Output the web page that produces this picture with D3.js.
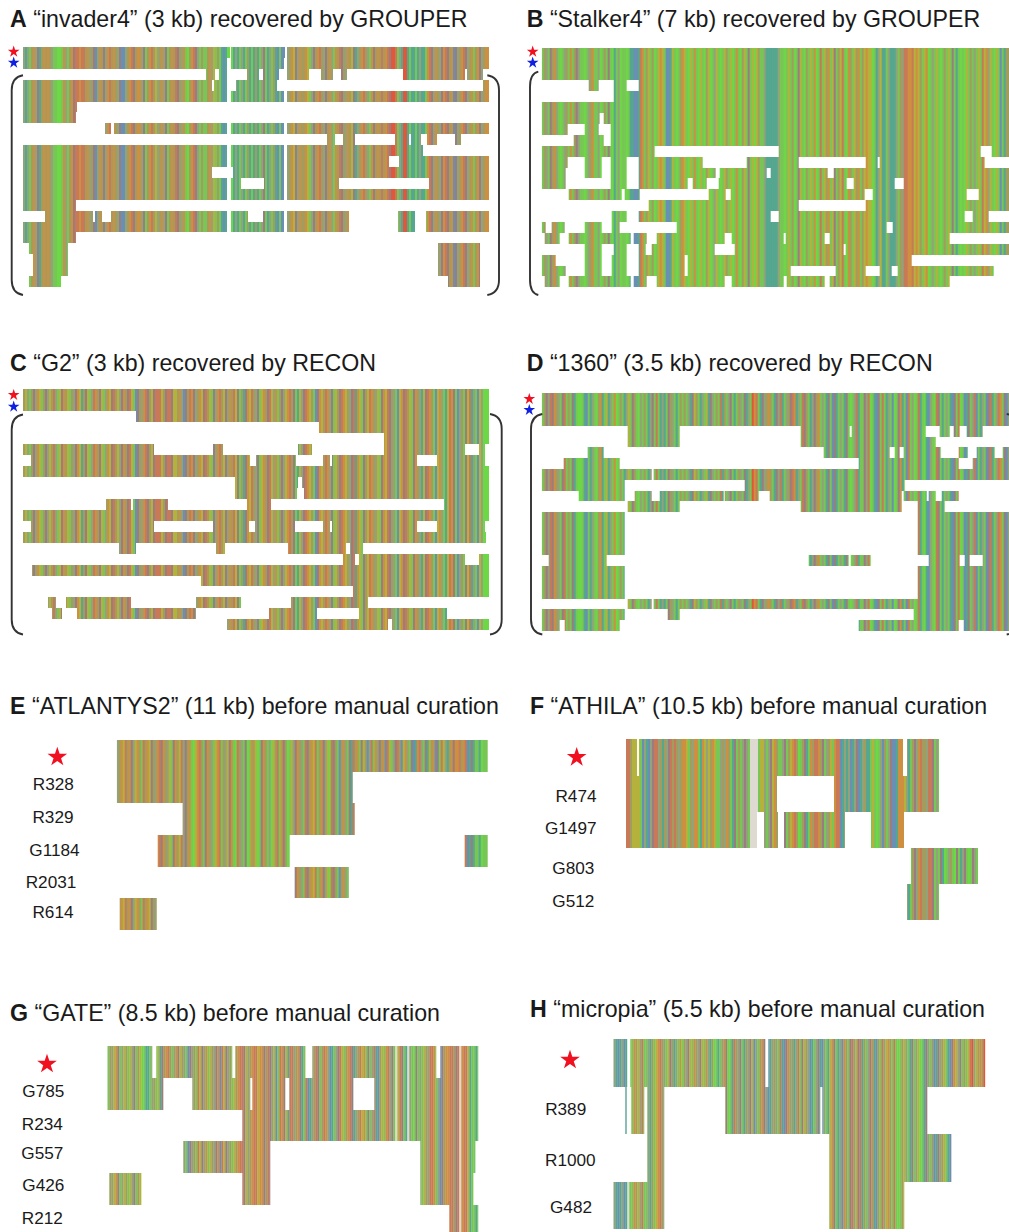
<!DOCTYPE html>
<html>
<head>
<meta charset="utf-8">
<script src="https://cdn.jsdelivr.net/npm/d3@7"></script>
<style>
body { margin: 0; background: #fff; }
text { font-family: "Liberation Sans", Arial, sans-serif; fill: #1a1a1a; }
</style>
</head>
<body>
<div id="chart"></div>
<script>
// base colour keys seen in the alignment views
const baseKeys = ["a", "o", "g", "l", "t", "b", "r", "R", "y", "m", "k", "p"];
const baseColors = ["#a39c5e", "#cf8f3f", "#78c655", "#6cd845", "#55a78f", "#6a8fb5", "#c87a58", "#e0583a", "#b4b23e", "#9a7d80", "#92a27a", "#dedad2"];

// consensus stripes per panel, one letter per column, read by eye
const seqA = "ktkgaokmta oaoakggllg okgaomrror raokambkoa mkoraoakmb bkaormaook mgaoraykao kmgaoarmak oglaormkga ggaokygagt btllltktgk tgatgtatgk mgtkgatbgb bbkaoymkoa aoygkmaora kmaokgoarm akoaymtkao rakgomaoar aormRRrgkt RRtgttgtkt tgormkoakm ormaobmkao rmkaogaomk aoooaaoooa";
const seqB = "gakgmaokgl gkagogamkg glgkaoggkl gagmgltgkl gglgttbbtr ogaygalgyo ygbbtyglga oyglygogly glaylgkygl gyagylgogl aygmgylyag gkttttttkg glgygalgmy glagygolgr gyaogymgay rgloagyaog ayoyylgtky ttgktttkga krrooryoya gyolgkgygl gagygmgtgl glygagkgyg ryokyglygb gtaaytgbgr";
const seqC = "aykgamkoyg amkyarkgym oaygakmoyt amygkroamy gkoymraykm oamrygbmak ormaymrrry amrrmyyaok bmaromkaoy mraygmkora ymkoarymga tmoyrakmgy oamrykogam kyoramgtyk mroyagbmoy arokmgyamr oyakmrtoyg mayroakygm oyrmakgbyo mraygmoakt ymroagbyok gtyromgbka gmyrtkgbyk llllllllll";
const seqD = "gamkrmoakg mrgagmtgll gtbgtkglao tgytkgolga gtkygmaglk gagtkmgrgt ktgmakgtga gagktmyagt kgytmkgagr tagkmgtgak gmtkgRorgt mkaoagtmkr tgkamrotkg rmagtkmaog kgtmgbmtgk gtmglgkrtg gmkrlgtbmg rgtkgblgmo tgbrgklgrt gltbkglrmg tgkgtbmgrl gbtmgkrbgt kgbmrtgkro gmbkorgmtr";
const seqE = "kaoyraomky oagraoymak ormoakygmo ayrkmaogly oragmoakgy orgakymogl rakgmlgoay lgmoagklya rgomalgykm oakgrmaoyr gaomkylrma gbaokgmtra ogmyabkrgo kmaobrygkm rabyokgmbt orkgmtyaob mgryktaomo oraorbtmtg gtlggggggg";
const seqF = "rrayyyygbk tbkmrrkata kmrarakaoo ygakoogtoy kyaoyggkak oagtmgagkm kgppppgyyk gkmyoaggkm gayoralgam tgoarroamg kaygorrbtk tkbtkmbtka ttgyglgkba gkmbbtoooy ktgamkoraa krrmgkgmtl gkaglmgtkm glgmkgytgk";
const seqG = "gakyomgkya gykmgaylgt tgkagytmao ragkomyakg bmkagrymko gyakmobrym kagyaorrmy kaorryooma rmkybgromy trrkaomtgr btkarmgaro kbtgkmryga ormtkaryog mgkrtbaygo rkmgpyrmgt pkglmgkgya krrogkbmao orramrporr ytggtggtgt";
const seqH = "ktbtkbtpgg oaykrggkta gyorakgyma tkgolakmyg oakmygokta lgtgkomlgt rakmgtakmy bkgaomkbtk akgrtbmoka tkrgmyakbt gkmtbkgtyo mgtkboagmr kymrtagkmo tbagrkyoag rglgaykgtm gkylgtmkga btmkaygtbm oykmgagyrR kyaoaRRRRR";

// aligned spans of each row, in alignment columns
const rowsA = [
  [[0,103.5],[104,131],[132,233]],
  [[0,102],[104,130.5],[132,233]],
  [[91.5,96],[98,102],[112,118],[120,128],[132,143],[149,155],[159,162],[190,221],[222,230]],
  [[0,94.5],[95.5,102],[106.5,127],[230,233]],
  [[0,102],[104,130.5],[132,233]],
  [[0,27]],
  [[0,26.5]],
  [[41,44],[45.5,102],[104,130.5],[132,233]],
  [[152,156],[160,166],[186,193],[194,199],[202,207],[216,219]],
  [[0,102],[104,130.5],[132,200]],
  [[0,102],[104,130.5],[132,183],[188,233]],
  [[0,94.5],[105,130.5],[132,233]],
  [[0,102],[104,109],[120.5,130.5],[132,158],[203,233]],
  [[0,102],[104,130.5],[132,233]],
  [[0,26.5]],
  [[11,35],[36,39.5],[44,102],[104,112.5],[120,130.5],[132,163],[187.5,196],[201.5,233]],
  [[0,102],[104,130.5],[132,163],[187.5,196],[201.5,233]],
  [[0,26.5]],
  [[3,22.5],[207.5,228.5]],
  [[5,22.5],[207.5,228.5]],
  [[5,22.5],[207.5,228.5]],
  [[3,19],[212.5,228.5]]
];
const rowsB = [
  [[0,234]],
  [[0,234]],
  [[0,234]],
  [[23.5,28.5],[36,42.5],[48.5,234]],
  [[36,234]],
  [[0,234]],
  [[0,29],[31,234]],
  [[0,13],[21.5,28.5],[34.5,234]],
  [[16,31],[34.5,234]],
  [[0,56.5],[118.5,219.5],[225,234]],
  [[0,13],[21.5,30],[34.5,42.5],[48.5,80.5],[102.5,128.5],[162,168],[169,221.5]],
  [[0,12],[21.5,30],[34.5,42.5],[48.5,87],[89,112.5],[114.5,143],[146,234]],
  [[0,12],[34.5,42.5],[48.5,73],[75.5,82.5],[88.5,152.5],[156,176.5],[181,234]],
  [[13.5,40],[41.5,49],[83.5,92],[94.5,161.5],[165.5,212.5],[218.5,234]],
  [[53.5,128.5],[162,234]],
  [[35,42.5],[48.5,114.5],[118.5,211.5],[215.5,223.5]],
  [[0,2],[5,11.5],[21.5,30],[35,39],[67.5,172.5],[175.5,234]],
  [[1.5,9],[13.5,44.5],[46,52.5],[57.5,91.5],[95,121],[122,141.5],[144,204]],
  [[21.5,30],[36,42.5],[48.5,52],[55,86.5],[96.5,151],[152,234]],
  [[0,7],[21.5,30],[35,42.5],[48.5,71.5],[73,185]],
  [[0,12],[21.5,30],[35,42.5],[48.5,71.5],[73,124.5],[147,162],[169,175],[178,226]],
  [[1.5,9],[13.5,44.5],[46,52.5],[57.5,91.5],[95,121],[122.5,141.5],[144,204]]
];
const rowsC = [
  [[0,233]],
  [[0,233]],
  [[56.5,233]],
  [[148,233]],
  [[180.5,233]],
  [[0,65.5],[95,100],[137.5,144.5],[180.5,221],[228,231]],
  [[4,113.5],[116.5,136.5],[150,153.5],[154.5,197],[207,231]],
  [[0,233]],
  [[106,137.5],[139.5,233]],
  [[106,137],[140.5,233]],
  [[41.5,54],[55,72.5],[112,124],[210.5,233]],
  [[0,233]],
  [[4,65.5],[95,113],[116,136],[150,153.5],[154.5,197],[207,231]],
  [[0,231.5]],
  [[48,56.5],[96.5,101],[132.5,161.5],[163.5,170]],
  [[160,166],[168,221],[228,233]],
  [[4.5,233]],
  [[89,233]],
  [[165,233]],
  [[12.5,16.5],[21.5,54],[86.5,109],[134,172.5]],
  [[14.5,19.5],[27,86.5],[123,147],[168,212]],
  [[102,182.5],[184.5,233]]
];
const rowsD = [
  [[0,234]],
  [[0,234]],
  [[0,234]],
  [[43,69],[129.5,154],[155,192],[199,204],[206,209],[212.5,220.5]],
  [[43,69],[129.5,197]],
  [[23,31],[141,174],[176.5,179],[181,199.5],[208.5,213],[217.5,226.5],[230.5,234]],
  [[11,39],[158.5,208.5],[215.5,234]],
  [[0,55],[56,234]],
  [[0,41.5],[101.5,181.5]],
  [[18.5,41.5],[46.5,55],[59,91],[91.5,108.5],[114,180],[181,192.5],[193.5,197],[200,208.5]],
  [[43,69],[129.5,180],[188,201.5]],
  [[0,41.5],[188,234]],
  [[0,41.5],[188,234]],
  [[0,41.5],[188,234]],
  [[0,41.5],[188,234]],
  [[3.5,32.5],[133.5,153.5],[154.5,164.5],[193.5,209],[211.5,214],[220.5,234]],
  [[0,41.5],[188,234]],
  [[0,41.5],[188,234]],
  [[0,41.5],[188,234]],
  [[43,55],[56,234]],
  [[0,41.5],[63,69],[186,234]],
  [[0,9],[11.5,39],[158.5,208.5],[211,234]]
];
const rowsE = [
  [[0,185.5]],
  [[0,118]],
  [[33,119]],
  [[20.5,86.5],[174,185.5]],
  [[89,116]],
  [[1.5,20]]
];
const rowsF = [
  [[0,5.5],[6.5,138.5],[140.5,156.5]],
  [[0,75.5],[104,156.5]],
  [[0,65.5],[69,76],[79,109.5],[122.5,139]],
  [[142.5,176]],
  [[140.5,156.5]]
];
const rowsG = [
  [[0,22.5],[24.5,62.5],[64,99],[102.5,164.5],[166.5,185.5]],
  [[0,28],[42.5,71.5],[72.5,89],[91,123],[133.5,185.5]],
  [[67.5,185.5]],
  [[38,81.5],[156.5,184]],
  [[1,17],[67.5,81.5],[156.5,183]],
  [[171,185.5]]
];
const rowsH = [
  [[0,7],[8.5,76],[77.5,186]],
  [[6,6.7],[9,15.5],[17,25.5],[56,103.5],[104.5,157]],
  [[17,25.5],[108,169]],
  [[0,25.5],[108,145.5]]
];

const labelsE = ["R328", "R329", "G1184", "R2031", "R614"];
const labelsF = ["R474", "G1497", "G803", "G512"];
const labelsG = ["G785", "R234", "G557", "G426", "R212"];
const labelsH = ["R389", "R1000", "G482"];

const width = 1009;
const height = 1232;

const panels = [
  { key: "A", title: "“invader4” (3 kb) recovered by GROUPER", tx: 10, ty: 27, seq: seqA, rows: rowsA, cols: 233,
    x: [23, 489], y: [47, 287], stars: [[13.7, 51.7, "#f01020"], [13.7, 62.7, "#1020e0"]],
    left: [23, 11.7, 75.3, 295], right: [487.3, 499, 75.3, 295] },
  { key: "B", title: "“Stalker4” (7 kb) recovered by GROUPER", tx: 526.7, ty: 27, seq: seqB, rows: rowsB, cols: 234,
    x: [541.7, 1009.7], y: [47.7, 287.3], stars: [[532.7, 51.7, "#f01020"], [532.7, 62.7, "#1020e0"]],
    left: [538.3, 530, 71.7, 295] },
  { key: "C", title: "“G2” (3 kb) recovered by RECON", tx: 10, ty: 371, seq: seqC, rows: rowsC, cols: 233,
    x: [23, 489], y: [389.3, 630.3], stars: [[13.7, 395, "#f01020"], [13.7, 406.7, "#1020e0"]],
    left: [23, 11.7, 414.5, 634.5], right: [490, 501.7, 414, 634.5] },
  { key: "D", title: "“1360” (3.5 kb) recovered by RECON", tx: 526.7, ty: 371, seq: seqD, rows: rowsD, cols: 234,
    x: [541.7, 1009.7], y: [393.3, 631], stars: [[529.3, 399, "#f01020"], [529.3, 410, "#1020e0"]],
    left: [542.3, 531, 414, 634.5], right: [1006.7, 1018, 414, 634.5] },
  { key: "E", title: "“ATLANTYS2” (11 kb) before manual curation", tx: 10, ty: 713.5, seq: seqE, rows: rowsE, cols: 185.5,
    x: [116.7, 487.7], y: [740, 930], stars: [[57.3, 757, "#f01020"]], big: true,
    labels: labelsE, lx: [53.3, 53, 54.5, 51, 53], ly: [784, 816.7, 850, 882.3, 912.3] },
  { key: "F", title: "“ATHILA” (10.5 kb) before manual curation", tx: 530, ty: 713.5, seq: seqF, rows: rowsF, cols: 176,
    x: [626, 978], y: [739.3, 920.3], stars: [[576.7, 757.3, "#f01020"]], big: true,
    labels: labelsF, lx: [576, 570.7, 573.3, 573.3], ly: [795.7, 828.3, 868, 901] },
  { key: "G", title: "“GATE” (8.5 kb) before manual curation", tx: 10, ty: 1020.7, seq: seqG, rows: rowsG, cols: 185.5,
    x: [107.3, 478.3], y: [1046, 1236.8], stars: [[47, 1064, "#f01020"]], big: true,
    labels: labelsG, lx: [43.3, 42.3, 42.3, 43.3, 42.3], ly: [1090.7, 1124, 1152.7, 1185.3, 1218.3] },
  { key: "H", title: "“micropia” (5.5 kb) before manual curation", tx: 530, ty: 1016.7, seq: seqH, rows: rowsH, cols: 186,
    x: [613.3, 985.3], y: [1039, 1229.3], stars: [[570, 1060, "#f01020"]], big: true,
    labels: labelsH, lx: [565.7, 570.3, 571], ly: [1108.7, 1160, 1207.3] }
];

const baseColor = d3.scaleOrdinal().domain(baseKeys).range(baseColors);

const svg = d3.select("#chart").append("svg")
  .attr("width", width)
  .attr("height", height)
  .style("display", "block");

// the reference is a slightly soft scan
const defs = svg.append("defs");
defs.append("filter")
  .attr("id", "soft")
  .attr("x", "-2%").attr("y", "-2%").attr("width", "104%").attr("height", "104%")
  .append("feGaussianBlur")
  .attr("stdDeviation", 0.5);

panels.forEach(p => {
  const g = svg.append("g").attr("class", `panel-${p.key}`);
  const columns = Array.from(p.seq.replace(/ /g, "")).slice(0, Math.ceil(p.cols));

  const xScale = d3.scaleLinear().domain([0, p.cols]).range(p.x);
  const yScale = d3.scaleBand().domain(d3.range(p.rows.length)).range(p.y);

  const spans = p.rows.flatMap((row, i) => row.map(s => ({ row: i, start: s[0], end: s[1] })));

  // row coverage is a clip over the column stripes, whole pixels so rows do not show seams
  defs.append("clipPath")
    .attr("id", `cover-${p.key}`)
    .selectAll("rect")
    .data(spans)
    .join("rect")
    .attr("x", d => xScale(d.start))
    .attr("y", d => Math.round(yScale(d.row)))
    .attr("width", d => xScale(d.end) - xScale(d.start))
    .attr("height", d => Math.round(yScale(d.row) + yScale.bandwidth()) - Math.round(yScale(d.row)));

  g.append("g")
    .attr("filter", "url(#soft)")
    .append("g")
    .attr("clip-path", `url(#cover-${p.key})`)
    .selectAll("rect")
    .data(columns)
    .join("rect")
    .attr("x", (d, i) => xScale(i))
    .attr("y", p.y[0] - 1)
    .attr("width", xScale(1) - xScale(0) + 0.3)
    .attr("height", p.y[1] - p.y[0] + 2)
    .attr("fill", d => baseColor(d));

  const title = g.append("text")
    .attr("x", p.tx)
    .attr("y", p.ty)
    .style("font-size", "23.2px");
  title.append("tspan").style("font-weight", "bold").text(p.key);
  title.append("tspan").text(" " + p.title);

  g.selectAll(".star")
    .data(p.stars)
    .join("path")
    .attr("class", "star")
    .attr("transform", d => `translate(${d[0]},${d[1]})`)
    .attr("d", d3.symbol(d3.symbolStar, p.big ? 120 : 42))
    .attr("fill", d => d[2]);

  (p.labels || []).forEach((label, i) => {
    g.append("text")
      .attr("x", p.lx[i])
      .attr("y", p.ly[i])
      .attr("text-anchor", "middle")
      .attr("dominant-baseline", "central")
      .style("font-size", "17.2px")
      .text(label);
  });

  [p.left, p.right].filter(Boolean).forEach(b => {
    const [tip, back, top, bottom] = b;
    g.append("path")
      .attr("d", `M${tip},${top}Q${back},${top + 2} ${back},${top + 15}L${back},${bottom - 15}Q${back},${bottom - 2} ${tip},${bottom}`)
      .attr("fill", "none")
      .attr("stroke", "#333")
      .attr("stroke-width", 1.9);
  });
});
</script>
</body>
</html>
